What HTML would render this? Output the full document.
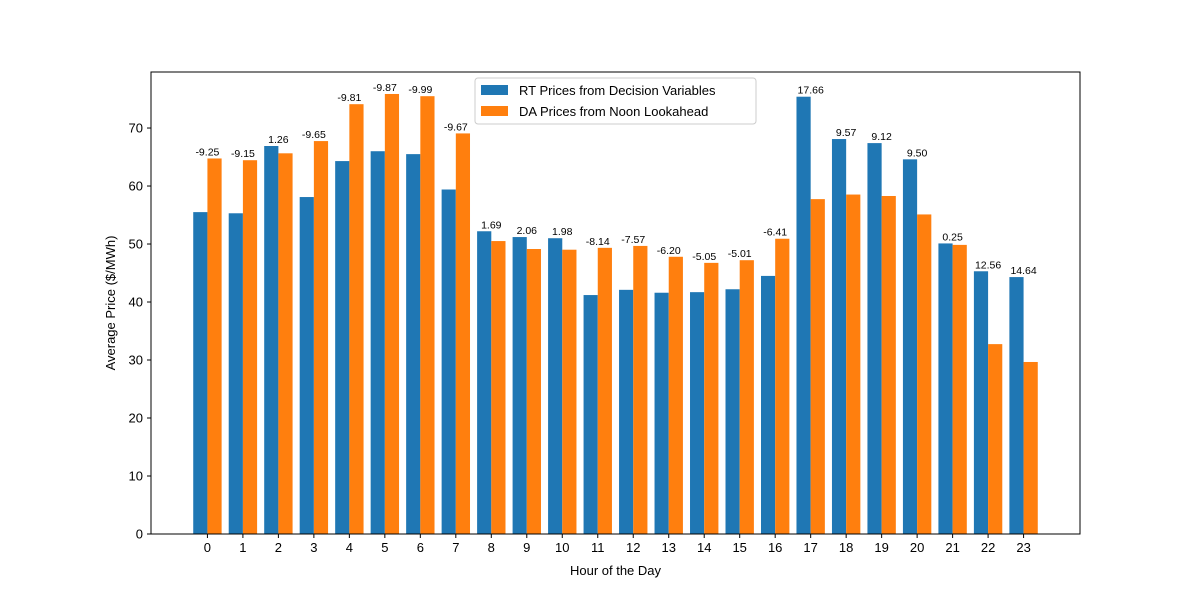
<!DOCTYPE html>
<html><head><meta charset="utf-8"><style>
body{margin:0;background:#fff}
svg text{font-family:"Liberation Sans","DejaVu Sans",sans-serif}
</style></head><body>
<svg id="chart" width="1200" height="600" xmlns="http://www.w3.org/2000/svg">
<rect width="1200" height="600" fill="#fff"/>
<g id="bars"></g>
<g id="labels"></g>
<g id="axes"></g>
</svg>
<script>
const hours=[0,1,2,3,4,5,6,7,8,9,10,11,12,13,14,15,16,17,18,19,20,21,22,23];
const rtValues=[55.5,55.3,66.9,58.1,64.3,66.0,65.5,59.4,52.2,51.2,51.0,41.2,42.1,41.6,41.7,42.2,44.5,75.4,68.1,67.4,64.6,50.1,45.3,44.3];
const daValues=[64.75,64.45,65.64,67.75,74.11,75.87,75.49,69.07,50.51,49.14,49.02,49.34,49.67,47.8,46.75,47.21,50.91,57.74,58.53,58.28,55.1,49.85,32.74,29.66];
const diffLabels=["-9.25","-9.15","1.26","-9.65","-9.81","-9.87","-9.99","-9.67","1.69","2.06","1.98","-8.14","-7.57","-6.20","-5.05","-5.01","-6.41","17.66","9.57","9.12","9.50","0.25","12.56","14.64"];
const yTicks=[0,10,20,30,40,50,60,70];
const NS="http://www.w3.org/2000/svg";
const L=151,R=1080,T=72,B=534;
const xMin=-1.59,xMax=24.59,yMax=79.66;
const xs=v=>L+(v-xMin)/(xMax-xMin)*(R-L);
const ys=v=>B-v/yMax*(B-T);
const bw=0.4;
function mk(tag,attrs,parent){const e=document.createElementNS(NS,tag);for(const k in attrs)e.setAttribute(k,attrs[k]);parent.appendChild(e);return e;}
const gb=document.getElementById('bars'),gl=document.getElementById('labels'),ga=document.getElementById('axes');
hours.forEach((h,i)=>{
  const r=mk('rect',{x:xs(h-bw),y:ys(rtValues[i]),width:xs(h)-xs(h-bw),height:B-ys(rtValues[i]),fill:'#1f77b4'},gb);
  
  
  const d=mk('rect',{x:xs(h),y:ys(daValues[i]),width:xs(h+bw)-xs(h),height:B-ys(daValues[i]),fill:'#ff7f0e'},gb);
  
  
  const t=mk('text',{x:xs(h),y:ys(Math.max(rtValues[i],daValues[i]))-3,'font-size':'10.5','text-anchor':'middle',fill:'#000'},gl);
  t.textContent=diffLabels[i];
  
  
});
const fr=mk('rect',{x:L,y:T,width:R-L,height:B-T,fill:'none',stroke:'#000','stroke-width':1},ga);


hours.forEach(h=>{
  mk('line',{x1:xs(h),x2:xs(h),y1:B,y2:B+4,stroke:'#000'},ga);
  const t=mk('text',{x:xs(h),y:B+18,'font-size':'13','text-anchor':'middle'},ga);
  t.textContent=h;
  
  
});
yTicks.forEach(v=>{
  mk('line',{x1:L-4,x2:L,y1:ys(v),y2:ys(v),stroke:'#000'},ga);
  const t=mk('text',{x:L-8,y:ys(v)+4.5,'font-size':'13','text-anchor':'end'},ga);
  t.textContent=v;
  
  
});
const xt=mk('text',{x:(L+R)/2,y:575,'font-size':'13','text-anchor':'middle'},ga);
xt.textContent='Hour of the Day';


const yt=mk('text',{x:0,y:0,'font-size':'13','text-anchor':'middle',transform:'translate(115,'+((T+B)/2)+') rotate(-90)'},ga);
yt.textContent='Average Price ($/MWh)';


const lg=mk('g',{},ga);


mk('rect',{x:475,y:78,width:281,height:46,fill:'#fff','fill-opacity':0.8,stroke:'#ccc',rx:3},lg);
mk('rect',{x:481,y:85,width:27,height:10,fill:'#1f77b4'},lg);
mk('rect',{x:481,y:106,width:27,height:10,fill:'#ff7f0e'},lg);
const l1=mk('text',{x:519,y:95,'font-size':'13'},lg);l1.textContent='RT Prices from Decision Variables';


const l2=mk('text',{x:519,y:116,'font-size':'13'},lg);l2.textContent='DA Prices from Noon Lookahead';


</script>
</body></html>
